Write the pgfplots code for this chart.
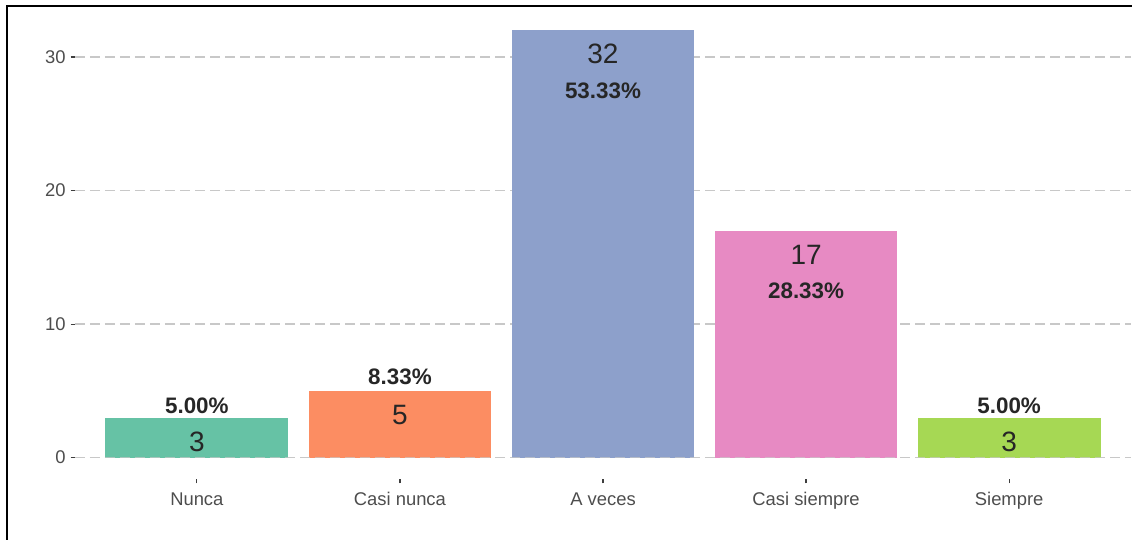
\documentclass[border=0pt]{standalone}
\usepackage{pgfplots}
\pgfplotsset{compat=1.18}
\usepackage{fontspec}
\setmainfont{Liberation Sans}
\definecolor{cA}{HTML}{66C2A5}
\definecolor{cB}{HTML}{FC8D62}
\definecolor{cC}{HTML}{8DA0CB}
\definecolor{cD}{HTML}{E78AC3}
\definecolor{cE}{HTML}{A6D854}
\definecolor{gridc}{HTML}{C8C8C8}
\definecolor{tickc}{HTML}{4D4D4D}
\begin{document}
\begin{tikzpicture}
\useasboundingbox (0,0) rectangle (566pt,270pt);
\draw[line width=0.9pt, black] (3.5pt,0) -- (3.5pt,267pt) -- (567pt,267pt);
\begin{axis}[
  at={(37.5pt,30.5pt)}, anchor=south west,
  scale only axis, width=528pt, height=235pt,
  xmin=0.4, xmax=5.6, ymin=-1.6, ymax=33.6,
  xtick={1,2,3,4,5},
  xticklabels={Nunca,Casi nunca,A veces,Casi siempre,Siempre},
  ytick={0,10,20,30},
  axis line style={draw=none},
  tick pos=left, tick align=outside,
  major tick length=2.2pt,
  tick style={draw=tickc!80!black, line width=0.6pt},
  ymajorgrids,
  grid style={gridc, line width=0.75pt, dash pattern=on 5pt off 2.5pt},
  ticklabel style={font=\fontsize{9.2pt}{10pt}\selectfont, text=tickc},
  yticklabel style={xshift=1pt},
  /pgf/number format/assume math mode=true,
  xticklabel style={yshift=-1pt},
  clip=false,
]
\addplot[ybar, bar width=0.9, bar shift=0pt, fill=cA, draw=none] coordinates {(1,3)};
\addplot[ybar, bar width=0.9, bar shift=0pt, fill=cB, draw=none] coordinates {(2,5)};
\addplot[ybar, bar width=0.9, bar shift=0pt, fill=cC, draw=none] coordinates {(3,32)};
\addplot[ybar, bar width=0.9, bar shift=0pt, fill=cD, draw=none] coordinates {(4,17)};
\addplot[ybar, bar width=0.9, bar shift=0pt, fill=cE, draw=none] coordinates {(5,3)};
\addplot[gridc, line width=0.75pt, dash pattern=on 5pt off 2.5pt, opacity=0.7] coordinates {(0.4,0) (5.6,0)};
\begin{scope}[every node/.style={anchor=center, inner sep=0pt}]
\node[font=\fontsize{14pt}{15pt}\selectfont, text=black!85, yshift=-12pt] at (axis cs:1,3) {3};
\node[font=\fontsize{14pt}{15pt}\selectfont, text=black!85, yshift=-12pt] at (axis cs:2,5) {5};
\node[font=\fontsize{14pt}{15pt}\selectfont, text=black!85, yshift=-12pt] at (axis cs:3,32) {32};
\node[font=\fontsize{14pt}{15pt}\selectfont, text=black!85, yshift=-12pt] at (axis cs:4,17) {17};
\node[font=\fontsize{14pt}{15pt}\selectfont, text=black!85, yshift=-12pt] at (axis cs:5,3) {3};
\node[font=\bfseries\fontsize{11.2pt}{12pt}\selectfont, text=black!85, yshift=6pt] at (axis cs:1,3) {5.00\%};
\node[font=\bfseries\fontsize{11.2pt}{12pt}\selectfont, text=black!85, yshift=7pt] at (axis cs:2,5) {8.33\%};
\node[font=\bfseries\fontsize{11.2pt}{12pt}\selectfont, text=black!85, yshift=-30pt] at (axis cs:3,32) {53.33\%};
\node[font=\bfseries\fontsize{11.2pt}{12pt}\selectfont, text=black!85, yshift=-30pt] at (axis cs:4,17) {28.33\%};
\node[font=\bfseries\fontsize{11.2pt}{12pt}\selectfont, text=black!85, yshift=6pt] at (axis cs:5,3) {5.00\%};
\end{scope}
\end{axis}
\end{tikzpicture}
\end{document}
